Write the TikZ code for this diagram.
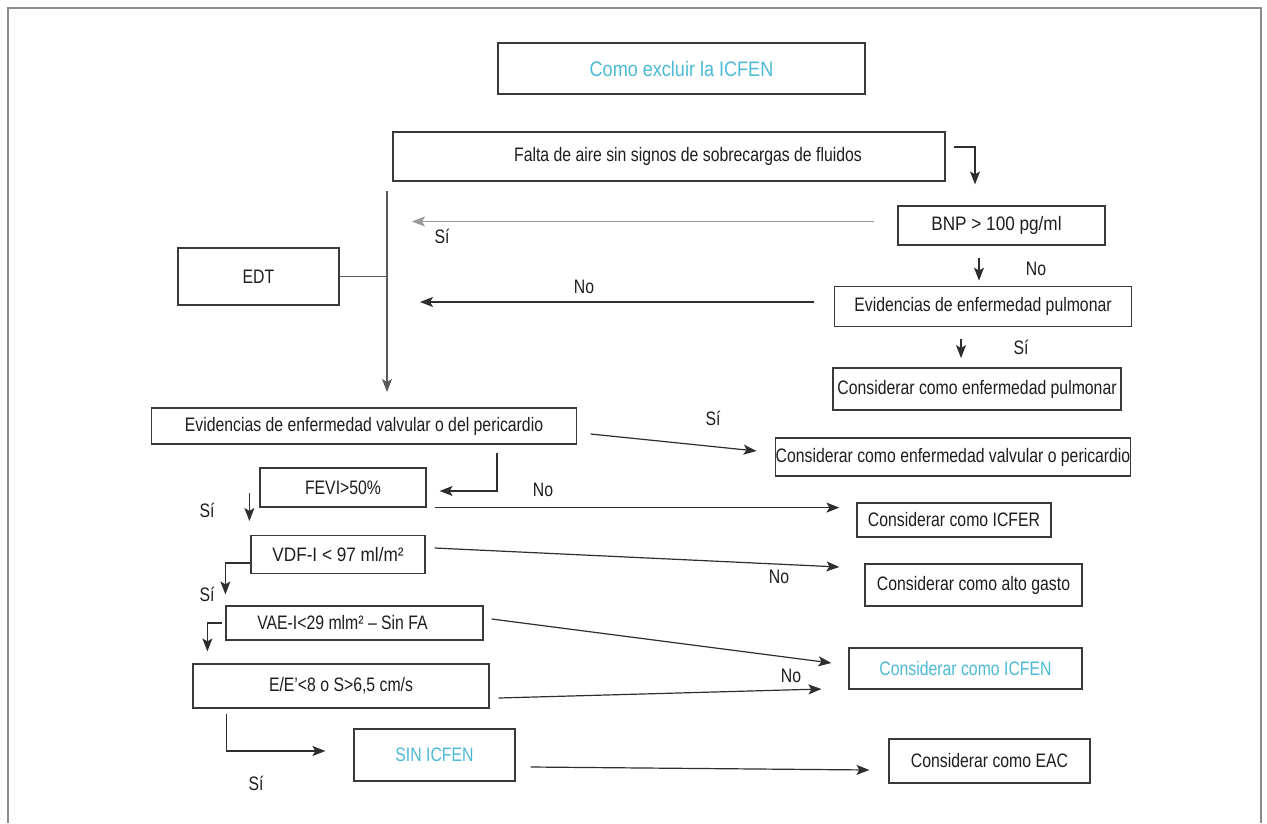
\documentclass[tikz,border=0pt]{standalone}
\usepackage{fontspec}
\setmainfont{Liberation Sans}[FakeStretch=0.81]
\newfontfamily\titlefont{Liberation Sans}[FakeStretch=0.86]
\newfontfamily\widefont{Liberation Sans}[FakeStretch=0.88]
\usetikzlibrary{arrows.meta,calc}
\definecolor{cyantext}{HTML}{4CBAD6}
\definecolor{txt}{HTML}{1E1E1E}
\definecolor{boxc}{HTML}{3A3A3A}
\definecolor{linec}{HTML}{2E2E2E}
\definecolor{grayline}{HTML}{9A9A9A}
\definecolor{midline}{HTML}{5A5A5A}
\definecolor{framec}{HTML}{8C8C8C}
\begin{document}
\begin{tikzpicture}[x=1pt,y=-1pt,
  box/.style={draw=boxc, line width=1.2pt, inner sep=0pt, font=\fontsize{19.5}{23}\selectfont, text=txt},
  arr/.style={draw=linec, line width=1.2pt, -{Stealth[length=13pt,width=10pt,inset=3pt]}},
  plain/.style={draw=midline, line width=1.2pt},
  lab/.style={font=\fontsize{19.5}{23}\selectfont, text=txt, inner sep=0pt}]
\useasboundingbox (0,0) rectangle (1267,823);
\fill[white] (0,0) rectangle (1267,823);
\draw[framec, line width=1.2pt] (8,823) -- (8,8) -- (1261,8) -- (1261,823);

% boxes
\node[box, minimum width=367pt, minimum height=51pt, text=cyantext, font=\titlefont\fontsize{21}{25}\selectfont] (title) at (681.5,68.5) {Como excluir la ICFEN};
\node[box, minimum width=552pt, minimum height=49pt] (falta) at (669,156.5) {\hspace*{38pt}Falta de aire sin signos de sobrecargas de fluidos};
\node[box, minimum width=207pt, minimum height=39pt, font=\widefont\fontsize{19.5}{23}\selectfont] (bnp) at (1001.5,225.5) {BNP > 100 pg/ml\hspace*{10pt}};
\node[box, minimum width=161pt, minimum height=57pt] (edt) at (258.5,276.5) {EDT};
\node[box, minimum width=297pt, minimum height=40pt] (pulm) at (983,306.5) {Evidencias de enfermedad pulmonar};
\node[box, minimum width=288pt, minimum height=42pt] (cpulm) at (977,389) {Considerar como enfermedad pulmonar};
\node[box, minimum width=425pt, minimum height=36pt] (valv) at (364,426) {Evidencias de enfermedad valvular o del pericardio};
\node[box, minimum width=353pt, minimum height=38pt] (cvalv) at (953,457) {Considerar como enfermedad valvular o pericardio};
\node[box, minimum width=166pt, minimum height=39pt] (fevi) at (343,487.5) {FEVI>50\%};
\node[box, minimum width=194pt, minimum height=34pt] (icfer) at (954,520) {Considerar como ICFER};
\node[box, minimum width=174pt, minimum height=38pt, font=\widefont\fontsize{19.5}{23}\selectfont] (vdf) at (338,554.5) {VDF-I < 97 ml/m²};
\node[box, minimum width=217pt, minimum height=42pt] (alto) at (973.5,585) {Considerar como alto gasto};
\node[box, minimum width=257pt, minimum height=34pt] (vae) at (354.5,623) {VAE-I<29 mlm² – Sin FA\hspace*{24pt}};
\node[box, minimum width=233pt, minimum height=41pt, text=cyantext] (icfen) at (965.5,668.5) {Considerar como ICFEN};
\node[box, minimum width=296pt, minimum height=44pt] (ee) at (341,686) {E/E’<8 o S>6,5 cm/s};
\node[box, minimum width=161pt, minimum height=52pt, text=cyantext] (sin) at (434.5,755) {SIN ICFEN};
\node[box, minimum width=201pt, minimum height=44pt] (eac) at (989.5,761) {Considerar como EAC};

% trunk
\coordinate (ttop) at (387,191);
\coordinate (tbot) at (387,392);
\draw[arr, draw=midline] (ttop) -- (tbot);
\draw[plain] (edt.east) -- (edt.east -| ttop);

% connectors
\draw[arr] ($(falta.east)+(8,-9.5)$) -| ($(bnp.north)+(-26.5,-21)$);
\draw[arr, draw=grayline] ($(bnp.west)+(-23,-4)$) -- ($(ttop |- bnp.west)+(25,-4)$);
\draw[arr] ($(bnp.south)+(-22.5,12)$) -- ($(bnp.south)+(-22.5,35)$);
\draw[arr] ($(pulm.west)+(-19.5,-4.5)$) -- ($(ttop |- pulm.west)+(33,-4.5)$);
\draw[arr] ($(pulm.south)+(-22,11.5)$) -- ($(pulm.south)+(-22,31)$);
\draw[arr] ($(valv.east)+(13.5,8)$) -- ($(cvalv.west)+(-18.5,-6)$);
\draw[arr] ($(valv.south)+(133,8)$) |- ($(fevi.east)+(13,3.5)$);
\draw[arr] ($(fevi.south east)+(8,0)$) -- ($(fevi.south east -| icfer.west)+(-17,0)$);
\draw[arr] ($(fevi.west)+(-10,5.5)$) -- ($(fevi.west)+(-10,33.5)$);
\draw[arr] ($(vdf.east)+(9,-6.5)$) -- ($(alto.west)+(-25,-18)$);
\draw[arr] ($(vdf.west)+(0,8.5)$) -| ($(vae.north west)+(0,-11)$);
\draw[arr] ($(vae.east)+(8,-4)$) -- ($(icfen.west)+(-17,-5.5)$);
\draw[arr] ($(vae.west)+(-3,0)$) -| ($(ee.north west)+(15,-12)$);
\draw[arr] ($(ee.east)+(9,12)$) -- ($(icfen.west)+(-27,20.5)$);
\draw[arr] ($(ee.south west)+(34,5)$) |- ($(sin.west)+(-28,-4)$);
\draw[arr] ($(sin.east)+(15,12)$) -- ($(eac.west)+(-19,9)$);

% labels
\node[lab] (l1) at (442,236) {Sí};
\node[lab] (l2) at (1036,269) {No};
\node[lab] (l3) at (584,287) {No};
\node[lab] (l4) at (1021,347) {Sí};
\node[lab] (l5) at (713,418) {Sí};
\node[lab] (l6) at (543,490) {No};
\node[lab] (l7) at (207,510) {Sí};
\node[lab] (l8) at (779,577) {No};
\node[lab] (l9) at (207,594) {Sí};
\node[lab] (l10) at (791,676) {No};
\node[lab] (l11) at (256,783) {Sí};
\end{tikzpicture}
\end{document}
